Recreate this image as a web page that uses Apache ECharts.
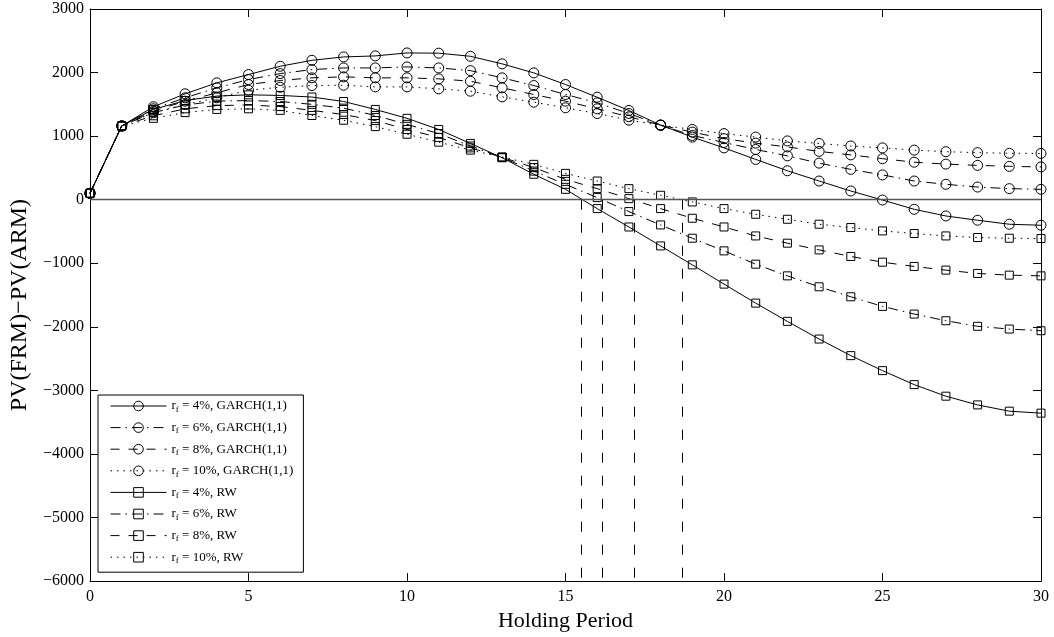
<!DOCTYPE html>
<html>
<head>
<meta charset="utf-8">
<script src="https://cdn.jsdelivr.net/npm/echarts@6/dist/echarts.min.js"></script>
<style>
html,body{margin:0;padding:0;background:#fff;}
#chart{width:1054px;height:637px;}
</style>
</head>
<body>
<div id="chart"></div>
<script>
// Holding period (x values)
const periods = [0,1,2,3,4,5,6,7,8,9,10,11,12,13,14,15,16,17,18,19,20,21,22,23,24,25,26,27,28,29,30];

// GARCH(1,1) series
const garch4  = [100,1160,1462,1666,1838,1969,2099,2193,2246,2262,2309,2305,2256,2137,1995,1812,1612,1404,1173,985,815,634,455,294,137,-5,-151,-256,-323,-386,-402];
const garch6  = [100,1160,1430,1603,1760,1890,1984,2047,2073,2073,2089,2073,2031,1917,1796,1655,1524,1356,1173,1011,900,790,690,575,477,390,294,242,199,174,163];
const garch8  = [100,1160,1393,1550,1681,1812,1875,1917,1932,1917,1917,1901,1864,1760,1655,1550,1430,1305,1173,1063,960,890,830,760,705,645,590,560,540,525,515];
const garch10 = [100,1160,1367,1498,1603,1722,1769,1796,1801,1775,1775,1744,1707,1618,1534,1446,1356,1251,1173,1105,1040,985,925,885,845,815,780,755,740,730,728];

// Random walk series
const rw4  = [100,1160,1420,1560,1630,1650,1640,1615,1545,1420,1280,1105,885,660,400,163,-140,-429,-727,-1025,-1328,-1627,-1914,-2192,-2453,-2689,-2909,-3091,-3228,-3327,-3358];
const rw6  = [100,1160,1370,1490,1550,1560,1545,1500,1440,1325,1185,1040,845,665,450,242,33,-187,-397,-606,-805,-1014,-1198,-1370,-1527,-1678,-1799,-1904,-1992,-2035,-2061];
const rw8  = [100,1160,1320,1430,1480,1490,1465,1405,1340,1245,1105,980,815,668,505,320,174,17,-140,-292,-429,-570,-684,-790,-893,-983,-1050,-1108,-1160,-1187,-1198];
const rw10 = [100,1160,1280,1370,1420,1430,1405,1325,1250,1150,1030,905,780,672,556,414,294,174,70,-35,-140,-229,-308,-386,-438,-491,-532,-570,-595,-606,-611];

// Break-even holding periods (RW curves crossing zero) – vertical dashed lines
const breakEven = [15.51, 16.17, 17.16, 18.67];

// Axis ticks
const xTicks = {min: 0, max: 30, interval: 5};
const yTicks = {min: -6000, max: 3000, interval: 1000};

const legendLabels = {
  g4: 'r{s|f} = 4%, GARCH(1,1)',
  g6: 'r{s|f} = 6%, GARCH(1,1)',
  g8: 'r{s|f} = 8%, GARCH(1,1)',
  g10: 'r{s|f} = 10%, GARCH(1,1)',
  r4: 'r{s|f} = 4%, RW',
  r6: 'r{s|f} = 6%, RW',
  r8: 'r{s|f} = 8%, RW',
  r10: 'r{s|f} = 10%, RW'
};

const FONT = 'Liberation Serif';
const SOLID = 'solid';
const DASHDOT = [10, 5, 1.5, 5];
const DASHED = [9, 9];
const DOTTED = [1.5, 5];

function mk(id, vals, dash, symbol, size) {
  return {
    name: id,
    type: 'line',
    data: periods.map((p, i) => [p, vals[i]]),
    symbol: symbol,
    symbolSize: size,
    showSymbol: true,
    smooth: false,
    lineStyle: {color: '#000', width: 1, type: dash},
    itemStyle: {color: 'rgba(0,0,0,0)', borderColor: '#000', borderWidth: 1},
    emphasis: {disabled: true},
    silent: true
  };
}

const series = [
  mk('g4', garch4, SOLID, 'circle', 10),
  mk('g6', garch6, DASHDOT, 'circle', 10),
  mk('g8', garch8, DASHED, 'circle', 10),
  mk('g10', garch10, DOTTED, 'circle', 10),
  mk('r4', rw4, SOLID, 'rect', 8),
  mk('r6', rw6, DASHDOT, 'rect', 8),
  mk('r8', rw8, DASHED, 'rect', 8),
  mk('r10', rw10, DOTTED, 'rect', 8)
];

// zero line and break-even verticals
series[0].markLine = {
  silent: true,
  symbol: ['none', 'none'],
  label: {show: false},
  animation: false,
  data: [
    [{coord: [xTicks.min, 0], lineStyle: {color: '#555', width: 1.3, type: 'solid'}}, {coord: [xTicks.max, 0]}]
  ].concat(breakEven.map(x => [
    {coord: [x, 0], lineStyle: {color: '#000', width: 1, type: [10, 13]}},
    {coord: [x, yTicks.min]}
  ]))
};

const minusFmt = v => String(v).replace('-', '\u2212');

const chart = echarts.init(document.getElementById('chart'), null, {renderer: 'canvas'});
chart.setOption({
  animation: false,
  backgroundColor: '#fff',
  textStyle: {fontFamily: FONT, color: '#000'},
  grid: {left: 88, right: 13, top: 9, bottom: 54, containLabel: false},
  xAxis: [{
    type: 'value', position: 'bottom',
    min: xTicks.min, max: xTicks.max, interval: xTicks.interval,
    name: 'Holding Period', nameLocation: 'middle', nameGap: 26,
    nameTextStyle: {fontFamily: FONT, fontSize: 22, color: '#000'},
    axisLine: {show: true, onZero: false, lineStyle: {color: '#000', width: 1}},
    axisTick: {show: true, inside: true, length: 8, lineStyle: {color: '#000'}},
    axisLabel: {fontFamily: FONT, fontSize: 16, color: '#000', margin: 8, formatter: minusFmt},
    splitLine: {show: false}
  }, {
    type: 'value', position: 'top',
    min: xTicks.min, max: xTicks.max, interval: xTicks.interval,
    axisLine: {show: true, onZero: false, lineStyle: {color: '#000', width: 1}},
    axisTick: {show: true, inside: true, length: 8, lineStyle: {color: '#000'}},
    axisLabel: {show: false},
    splitLine: {show: false}
  }],
  yAxis: [{
    type: 'value', position: 'left',
    min: yTicks.min, max: yTicks.max, interval: yTicks.interval,
    name: 'PV(FRM)\u2212PV(ARM)', nameLocation: 'middle', nameGap: 58,
    nameTextStyle: {fontFamily: FONT, fontSize: 24, color: '#000', padding: [0, 20, 0, 0]},
    axisLine: {show: true, onZero: false, lineStyle: {color: '#000', width: 1}},
    axisTick: {show: true, inside: true, length: 8, lineStyle: {color: '#000'}},
    axisLabel: {fontFamily: FONT, fontSize: 16, color: '#000', margin: 6, formatter: minusFmt},
    splitLine: {show: false}
  }, {
    type: 'value', position: 'right',
    min: yTicks.min, max: yTicks.max, interval: yTicks.interval,
    axisLine: {show: true, onZero: false, lineStyle: {color: '#000', width: 1}},
    axisTick: {show: true, inside: true, length: 8, lineStyle: {color: '#000'}},
    axisLabel: {show: false},
    splitLine: {show: false}
  }],
  legend: {
    show: true,
    orient: 'vertical',
    left: 98, top: 395,
    padding: [4, 10, 7, 12],
    itemGap: 6.6,
    itemWidth: 56,
    itemHeight: 12,
    backgroundColor: '#fff',
    borderColor: '#000',
    borderWidth: 1,
    borderRadius: 0,
    selectedMode: false,
    itemStyle: {borderWidth: 1},
    lineStyle: {width: 1},
    data: series.map(s => s.name),
    formatter: name => legendLabels[name],
    textStyle: {
      fontFamily: FONT, fontSize: 13, color: '#000', lineHeight: 14,
      rich: {s: {fontFamily: FONT, fontSize: 9, color: '#000', padding: [7, 0, 0, 0]}}
    }
  },
  series: series
});
</script>
</body>
</html>
